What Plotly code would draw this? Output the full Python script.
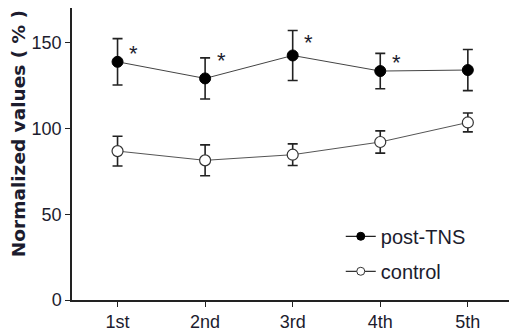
import plotly.graph_objects as go

categories = ["1st", "2nd", "3rd", "4th", "5th"]
post_tns = [139.0, 129.3, 142.7, 133.6, 134.2]
post_tns_err = [13.5, 12.0, 14.6, 10.3, 12.0]
control = [86.9, 81.5, 84.8, 92.2, 103.6]
control_err = [8.7, 9.0, 6.3, 6.5, 5.5]
star_cats = ["1st", "2nd", "3rd", "4th"]
star_y = [146.8, 142.4, 153.4, 141.4]
y_ticks = [0, 50, 100, 150]

txt = "#1c1c2e"
fig = go.Figure()
fig.add_trace(go.Scatter(
    x=categories, y=post_tns, name="post-TNS", mode="lines+markers",
    line=dict(color="#444444", width=1),
    marker=dict(color="black", size=11, line=dict(color="black", width=1)),
    error_y=dict(type="data", array=post_tns_err, color="#222222", thickness=1.6, width=5),
    showlegend=False,
))
fig.add_trace(go.Scatter(
    x=categories, y=control, name="control", mode="lines+markers",
    line=dict(color="#555555", width=1),
    marker=dict(color="white", size=11, line=dict(color="#333333", width=1.2)),
    error_y=dict(type="data", array=control_err, color="#222222", thickness=1.6, width=5),
    showlegend=False,
))
# legend entries
fig.add_trace(go.Scatter(
    x=[None], y=[None], name="post-TNS", mode="lines+markers",
    line=dict(color="#222222", width=1.2),
    marker=dict(color="black", size=8, line=dict(color="black", width=1)),
    legendgroup="a",
))
fig.add_trace(go.Scatter(
    x=[None], y=[None], name="control", mode="lines+markers",
    line=dict(color="#333333", width=1.2),
    marker=dict(color="white", size=8, line=dict(color="#333333", width=1)),
    legendgroup="b",
))
for c, yv in zip(star_cats, star_y):
    fig.add_annotation(x=c, y=yv, text="*", showarrow=False, xshift=16,
                       font=dict(size=22, color=txt, family="Arial"), yshift=-5)

fig.add_annotation(text="<b>Normalized values ( % )</b>", textangle=-90,
                   xref="paper", yref="paper", x=0, y=0.568, xanchor="center",
                   yanchor="middle", xshift=-54, showarrow=False,
                   font=dict(size=18.5, family="DejaVu Sans", color=txt))

fig.update_layout(
    width=509, height=331,
    margin=dict(l=72, r=0, t=8, b=31),
    plot_bgcolor="white", paper_bgcolor="white",
    font=dict(family="Arial, Liberation Sans", color=txt, size=18),
    showlegend=True,
    legend=dict(x=0.615, y=0.285, xanchor="left", yanchor="top",
                font=dict(size=20, color=txt), tracegroupgap=6,
                itemwidth=30, bgcolor="rgba(0,0,0,0)"),
    xaxis=dict(range=[-0.52, 4.47], showline=True, linecolor="#222222", linewidth=1.5,
               ticks="outside", ticklen=5, tickcolor="#222222", showgrid=False,
               zeroline=False, tickfont=dict(size=18)),
    yaxis=dict(range=[0, 170.4], showline=True, linecolor="#222222", linewidth=1.5,
               ticks="outside", ticklen=5, tickcolor="#222222", showgrid=False,
               zeroline=False, tickvals=y_ticks, tickfont=dict(size=18)),
)
fig.write_html("out.html", config={"displayModeBar": False},
               post_script="document.body.style.margin='0';")
